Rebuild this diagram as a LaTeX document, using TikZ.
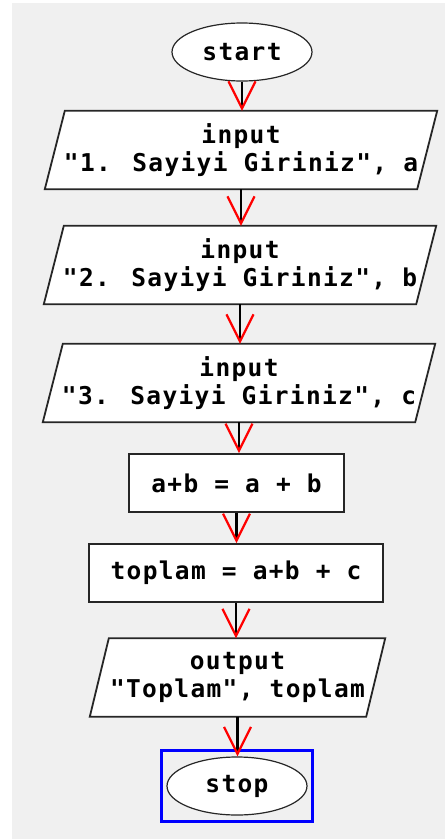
\documentclass[tikz,border=0pt]{standalone}
\usepackage{fontspec}
\newfontfamily\flowfont[LetterSpace=5.5]{DejaVu Sans Mono}
\usetikzlibrary{shapes.geometric,arrows.meta,backgrounds,fit}
\definecolor{canvas}{HTML}{F0F0F0}

\tikzset{
  flow/.style={x=1pt,y=-1pt,font=\flowfont\bfseries\fontsize{24.5}{28}\selectfont},
  terminal/.style={ellipse,draw=black!85,line width=1.2pt,fill=white,
    minimum width=140pt,minimum height=58pt,inner sep=0pt},
  process/.style={rectangle,draw=black!85,line width=1.8pt,fill=white,
    minimum height=58pt,inner sep=0pt},
  io/.style={rectangle,minimum height=78pt,align=center,inner sep=0pt},
  ioshape/.style={draw=black!85,line width=1.8pt,fill=white},
  arrow/.style={line width=2.6pt,
    -{Straight Barb[red,length=27pt,width=27pt,line width=2.2pt]}},
  selbox/.style={draw=blue,line width=2.5pt,inner xsep=5pt,inner ysep=6pt},
}

\begin{document}
\begin{tikzpicture}[flow]

  \useasboundingbox (0,0) rectangle (445,839);

  \node[terminal] (start) at (242,52) {start};
  \node[io,minimum width=372pt] (inA) at (241,150) {input\\"1. Sayiyi Giriniz", a};
  \node[io,minimum width=372pt] (inB) at (240,265) {input\\"2. Sayiyi Giriniz", b};
  \node[io,minimum width=372pt] (inC) at (239,383) {input\\"3. Sayiyi Giriniz", c};
  \node[process,minimum width=215pt] (sumAB) at (236.5,483) {a+b = a + b};
  \node[process,minimum width=294pt] (total) at (236,573) {toplam = a+b + c};
  \node[io,minimum width=276pt] (out) at (237.5,677.5) {output\\"Toplam", toplam};
  \node[terminal] (stop) at (237,786) {stop};
  \node[selbox,fit=(stop)] (sel) {};

  % parallelograms and canvas behind the text
  \begin{scope}[on background layer]
    \fill[canvas] (12,3) rectangle (445,839);
    \foreach \n/\s in {inA/10,inB/10,inC/10,out/9.5} {
      \filldraw[ioshape] ([xshift=\s]\n.north west) -- ([xshift=\s]\n.north east)
        -- ([xshift=-\s]\n.south east) -- ([xshift=-\s]\n.south west) -- cycle;
    }
  \end{scope}

  \draw[arrow] (start.south) -- (start.south |- inA.north);
  \draw[arrow] (inA.south) -- (inA.south |- inB.north);
  \draw[arrow] (inB.south) -- (inB.south |- inC.north);
  \draw[arrow] (inC.south) -- (inC.south |- sumAB.north);
  \draw[arrow] (sumAB.south) -- (sumAB.south |- total.north);
  \draw[arrow] (total.south) -- (total.south |- out.north);
  \draw[arrow] (out.south) -- (out.south |- stop.north);

\end{tikzpicture}
\end{document}
